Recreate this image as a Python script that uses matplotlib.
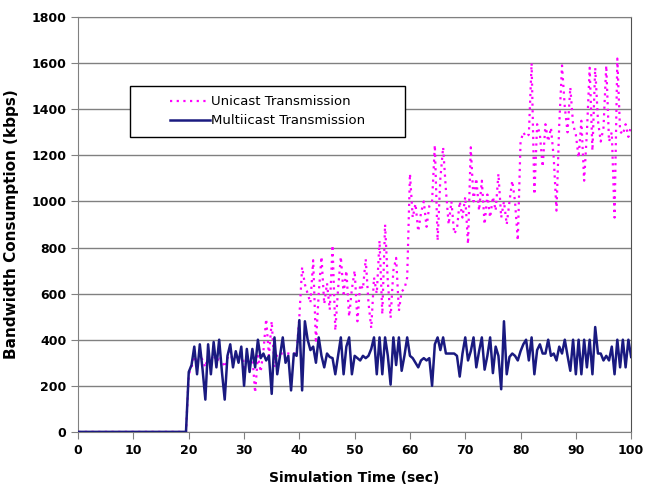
import numpy as np
import matplotlib
matplotlib.use('Agg')
import matplotlib.pyplot as plt
from matplotlib.patches import Rectangle

# tempo de simulacao (s): 0, 19.5 e depois de 0.5 em 0.5 s de 20 a 100
tempo = np.concatenate([[0, 19.5], np.arange(20, 100.01, 0.5)])

multicast = [0, 0,
    260, 290, 370, 250, 380, 270, 140, 380, 250, 390,
    280, 400, 260, 140, 330, 380, 280, 350, 300, 370,
    200, 360, 260, 360, 280, 400, 320, 340, 310, 330,
    165, 410, 250, 330, 410, 300, 330, 180, 340, 330,
    485, 180, 480, 400, 355, 370, 300, 410, 330, 280,
    340, 325, 320, 250, 330, 410, 250, 370, 410, 250,
    330, 320, 310, 330, 320, 330, 360, 410, 250, 410,
    250, 410, 330, 205, 410, 290, 410, 265, 330, 410,
    330, 320, 300, 280, 310, 320, 310, 320, 200, 380,
    410, 355, 410, 340, 340, 340, 340, 330, 240, 340,
    410, 310, 350, 410, 280, 350, 410, 270, 330, 410,
    255, 370, 330, 185, 480, 250, 325, 340, 330, 310,
    350, 380, 400, 310, 410, 250, 355, 380, 340, 340,
    400, 330, 340, 310, 370, 340, 400, 330, 265, 400,
    250, 400, 250, 400, 280, 400, 250, 455, 340, 340,
    310, 330, 310, 370, 250, 400, 280, 400, 280, 400,
    325]

unicast = [0, 0,
    250, 280, 330, 300, 340, 310, 280, 330, 300, 350,
    290, 330, 310, 280, 320, 350, 300, 330, 310, 340,
    280, 330, 300, 330, 170, 330, 260, 350, 490, 330,
    480, 280, 340, 340, 340, 340, 340, 340, 340, 340,
    500, 715, 640, 600, 560, 745, 385, 600, 760, 555,
    645, 530, 810, 440, 620, 760, 600, 700, 500, 620,
    700, 480, 640, 620, 750, 560, 450, 670, 600, 830,
    510, 900, 650, 495, 700, 755, 525, 610, 620, 670,
    1120, 930, 990, 870, 950, 1000, 890, 980, 1000, 1245,
    830, 1100, 1235, 1050, 900, 1000, 860, 880, 1000, 930,
    1020, 815, 1235, 1000, 1100, 960, 1090, 900, 1030, 930,
    1020, 960, 1120, 930, 1000, 900, 1000, 1090, 1000, 830,
    1260, 1300, 1280, 1290, 1600, 1030, 1335, 1290, 1150, 1335,
    1260, 1320, 1190, 960, 1335, 1590, 1410, 1300, 1495, 1335,
    1290, 1190, 1350, 1090, 1300, 1580, 1220, 1580, 1350, 1260,
    1320, 1590, 1260, 1300, 930, 1620, 1305, 1290, 1335, 1280,
    1330]

fig = plt.figure(figsize=(6.46, 4.88), dpi=100)
ax = fig.add_axes([0.121, 0.115, 0.856, 0.85])

ax.plot(tempo, unicast, color='#FF00FF', lw=1.6, linestyle=(0, (1, 2)),
        label='Unicast Transmission', zorder=2)
ax.plot(tempo, multicast, color='#1A1A80', lw=1.8,
        label='Multiicast Transmission', zorder=3)

ax.set_xlim(0, 100)
ax.set_ylim(0, 1800)
ax.set_xticks(range(0, 101, 10))
ax.set_yticks(range(0, 1801, 200))
ax.yaxis.grid(True, color='#808080', lw=1)
ax.set_axisbelow(True)
for s in ax.spines.values():
    s.set_color('#808080')
ax.spines['right'].set_color('#505050')
ax.tick_params(colors='#808080', direction='out', length=5, labelcolor='black')
for lbl in ax.get_xticklabels() + ax.get_yticklabels():
    lbl.set_fontweight('bold')
    lbl.set_fontsize(9)

ax.set_xlabel('Simulation Time (sec)', fontsize=10, fontweight='bold', labelpad=10)
ax.set_ylabel('Bandwidth Consumption (kbps)', fontsize=11, fontweight='bold', labelpad=9)

# caixa da legenda
ax.add_patch(Rectangle((0.094, 0.711), 0.497, 0.123, transform=ax.transAxes,
                       facecolor='white', edgecolor='black', lw=1, zorder=4))
leg = ax.legend(loc='center', bbox_to_anchor=(0.3425, 0.7725), frameon=False,
                fontsize=9.5, handlelength=3.0, handletextpad=0.1, labelspacing=0.45)
leg.set_zorder(5)

plt.savefig('out.png', dpi=100)
